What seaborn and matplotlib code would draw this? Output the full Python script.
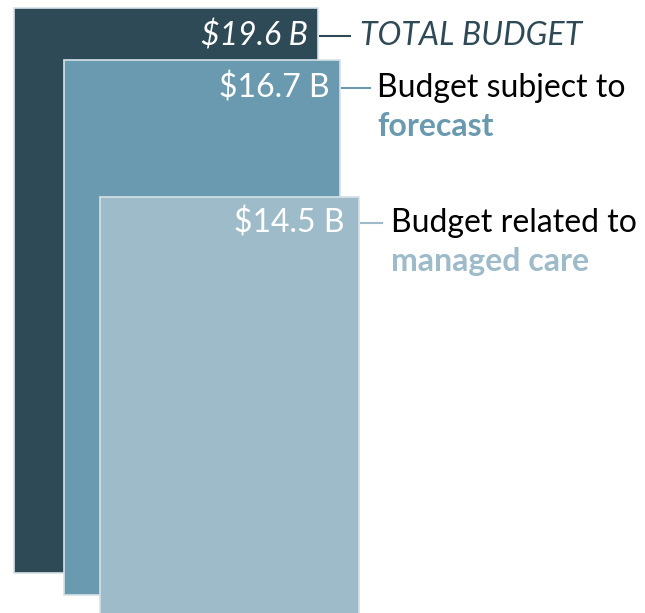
import matplotlib
matplotlib.use("Agg")
import matplotlib.pyplot as plt
import seaborn as sns

# data
values = [19.6, 16.7, 14.5]
captions = ["TOTAL BUDGET", "Budget subject to", "Budget related to"]
highlights = ["", "forecast", "managed care"]
colors = ["#2E4A56", "#6A9AB0", "#9DBBC9"]

# layout (pixel space of the graphic)
lefts = [14, 64, 100]
rights = [318, 340, 359]
tops = [8, 60, 197]
bottoms = [573, 595, 620]
label_y = [36, 88, 223]
label_pad = [10, 10, 15]
line_len = [33, 31, 24]
text_gap = [42, 37, 32]

sns.set_style("white")
plt.rcParams["font.family"] = ["Lato", "DejaVu Sans"]

fig = plt.figure(figsize=(6.45, 6.13), dpi=100)
ax = fig.add_axes([0, 0, 1, 1])
ax.set_xlim(0, 645)
ax.set_ylim(613, 0)
ax.axis("off")

for i, v in enumerate(values):
    ax.bar(lefts[i], bottoms[i] - tops[i], bottom=tops[i], width=rights[i] - lefts[i],
           align="edge", color=colors[i], edgecolor="#D5E1E7", linewidth=1.2, zorder=i)

fs = 23
for i, v in enumerate(values):
    y = label_y[i]
    style = "italic" if i == 0 else "normal"
    ax.text(rights[i] - label_pad[i], y, f"${v} B", color="white", fontsize=fs, ha="right",
            va="center", style=style, zorder=10)
    ax.plot([rights[i] + 1, rights[i] + line_len[i]], [y, y], color=colors[i], lw=1.5,
            zorder=10, solid_capstyle="butt")
    if i == 0:
        ax.text(rights[i] + text_gap[i], y, captions[i], color=colors[0], fontsize=fs,
                style="italic", ha="left", va="center")
    else:
        ax.text(rights[i] + text_gap[i], y, captions[i], color="black", fontsize=fs,
                ha="left", va="center")
        ax.text(rights[i] + text_gap[i], y + 38, highlights[i], color=colors[i], fontsize=fs,
                fontweight="bold", ha="left", va="center")

fig.savefig("out.png", dpi=100)
